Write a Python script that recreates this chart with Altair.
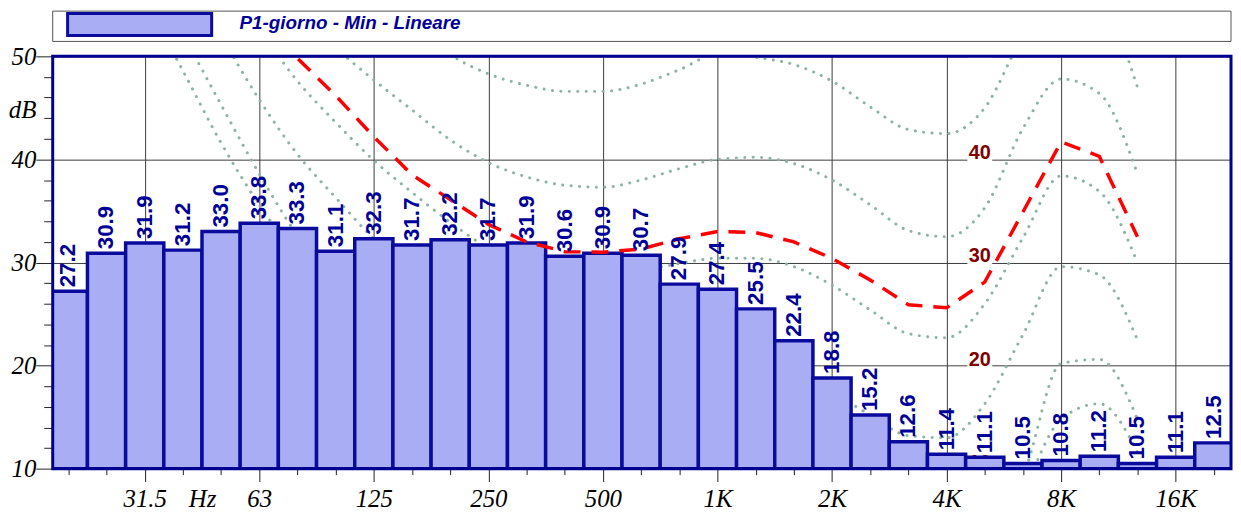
import altair as alt
import pandas as pd

# ---------------- data ----------------
band_labels = ["20", "25", "31.5", "40", "50", "63", "80", "100", "125", "160", "200",
               "250", "315", "400", "500", "630", "800", "1K", "1.25K", "1.6K", "2K",
               "2.5K", "3.15K", "4K", "5K", "6.3K", "8K", "10K", "12.5K", "16K", "20K"]
levels = [27.2, 30.9, 31.9, 31.2, 33.0, 33.8, 33.3, 31.1, 32.3, 31.7, 32.2,
          31.7, 31.9, 30.6, 30.9, 30.7, 27.9, 27.4, 25.5, 22.4, 18.8,
          15.2, 12.6, 11.4, 11.1, 10.5, 10.8, 11.2, 10.5, 11.1, 12.5]

axis_tick_idx = [2, 5, 8, 11, 14, 17, 20, 23, 26, 29]
axis_tick_lbl = ["31.5", "63", "125", "250", "500", "1K", "2K", "4K", "8K", "16K"]
unit_x_idx, unit_x_lbl = 3.5, "Hz"
unit_y_val, unit_y_lbl = 44.8, "dB"

# equal-loudness style contours (band index where each starts, values in dB)
contour_t_start = 2
contour_t = [55.5, 48.6, 41.6, 35.6, 30.5, 26.0, 22.0, 18.5, 15.5, 13.0, 10.5, 8.5, 7.0,
             5.5, 4.5, 4.0, 4.0, 3.5, 2.0, 0.0, -2.5, -3.0, 1.0, 7.8, 14.8, 16.3, 11.6]
contour_10_start = 3
contour_10 = [52.2, 45.3, 38.6, 32.6, 28.0, 24.5, 21.5, 19.0, 17.0, 15.3, 14.0, 13.0, 12.5,
              12.0, 11.5, 11.0, 9.5, 7.5, 5.0, 3.0, 2.5, 4.5, 9.3, 20.2, 20.6, 14.8]
contour_20_start = 4
contour_20 = [52.0, 45.8, 40.5, 36.3, 32.3, 29.2, 27.0, 25.0, 23.5, 22.2, 21.3, 20.8, 20.5,
              20.5, 20.3, 19.2, 17.4, 15.2, 13.2, 13.0, 16.3, 23.0, 29.6, 28.8, 22.5]
contour_30_start = 5
contour_30 = [52.7, 47.6, 43.6, 39.9, 36.8, 33.9, 31.4, 29.8, 28.8, 28.6, 29.2, 29.9, 30.4,
              30.4, 29.6, 27.8, 25.4, 23.1, 22.7, 26.0, 32.4, 38.4, 36.9, 30.0]
contour_40_start = 6
contour_40 = [54.2, 50.8, 47.7, 44.8, 41.9, 39.7, 38.3, 37.5, 37.3, 38.0, 39.1, 40.0, 40.2,
              39.6, 38.0, 35.6, 33.1, 32.5, 35.3, 43.0, 47.8, 46.4, 38.6]
contour_50_start = 9
contour_50 = [53.5, 50.2, 48.3, 47.2, 46.6, 46.6, 47.3, 48.7, 50.2, 49.9, 49.2, 47.6, 45.1,
              42.9, 42.5, 45.0, 52.0, 57.0, 55.5, 47.0]

# reference (red dashed) curve
ref_start = 5
ref_curve = [53.6, 49.8, 46.2, 42.2, 38.5, 36.1, 33.7, 32.0, 31.05, 31.0, 31.3, 32.3, 33.0,
             32.9, 32.0, 30.4, 28.3, 25.9, 25.6, 28.1, 34.9, 41.7, 40.3, 32.5]

# curve labels
curve_lbl_idx = 23.87
curve_lbl_vals = [50, 40, 30, 20, 10]
curve_lbl_text = ["50", "40", "30", "20", "10"]

legend_title = "P1-giorno - Min - Lineare"

# ---------------- style ----------------
W, H = 1186, 415
X_DOM = [-0.41, 30.45]
Y_DOM = [10, 50]
BAR_FILL = "#a9adf3"
BAR_EDGE = "#0a0a9c"
TXT_BLUE = "#000099"
DOT_COL = "#8cb4a5"
GRID_COL = "#3c3c3c"
SERIF = "Liberation Serif"
SANS = "Liberation Sans"

xs = alt.Scale(domain=X_DOM, nice=False, zero=False)
ys = alt.Scale(domain=Y_DOM, nice=False, zero=False)

lbl_map = dict(zip(axis_tick_idx, axis_tick_lbl))
lbl_map[unit_x_idx] = unit_x_lbl
x_expr = "".join(f"datum.value == {k} ? '{v}' : " for k, v in lbl_map.items()) + "''"

x_axis = alt.Axis(
    values=list(range(len(levels))) + [unit_x_idx],
    labelExpr=x_expr, title=None, domain=False, grid=True,
    gridColor=GRID_COL, gridWidth=1,
    gridOpacity={"condition": {"test": "datum.value % 3 == 2", "value": 1}, "value": 0},
    tickColor="#222222", tickWidth=1,
    tickSize={"condition": {"test": f"datum.value % 3 == 2 || datum.value == {unit_x_idx}", "value": 13}, "value": 6},
    tickOpacity={"condition": {"test": f"datum.value == {unit_x_idx}", "value": 0}, "value": 1},
    labelFont=SERIF, labelFontStyle="italic", labelFontSize=25, labelColor="black",
    labelPadding=5, labelOverlap=False, labelFlush=False, labelBound=False,
)
y_axis = alt.Axis(
    values=list(range(10, 51, 2)) + [unit_y_val],
    labelExpr=f"datum.value == {unit_y_val} ? '{unit_y_lbl}' : (datum.value % 10 == 0 ? format(datum.value, 'd') : '')",
    title=None, domain=False, grid=True, gridColor=GRID_COL, gridWidth=1,
    gridOpacity={"condition": {"test": "datum.value % 10 == 0", "value": 1}, "value": 0},
    tickColor="#222222", tickWidth=1,
    tickSize={"condition": {"test": f"datum.value % 10 == 0 || datum.value == {unit_y_val}", "value": 17}, "value": 9},
    tickOpacity={"condition": {"test": f"datum.value == {unit_y_val}", "value": 0}, "value": 1},
    labelFont=SERIF, labelFontStyle="italic", labelFontSize=25, labelColor="black",
    labelPadding=0, labelOverlap=False, labelFlush=False, labelBound=False,
)


def X(field):
    return alt.X(field, scale=xs, axis=x_axis)


def Y(field):
    return alt.Y(field, scale=ys, axis=y_axis)


# ---------------- tables ----------------
bars_df = pd.DataFrame({"i": list(range(len(levels))), "v": levels, "band": band_labels})

rows = []
for name, start, vals in [("T", contour_t_start, contour_t), ("10", contour_10_start, contour_10),
                          ("20", contour_20_start, contour_20), ("30", contour_30_start, contour_30),
                          ("40", contour_40_start, contour_40), ("50", contour_50_start, contour_50)]:
    for k, v in enumerate(vals):
        rows.append({"curve": name, "i": start + k, "v": v})
cont_df = pd.DataFrame(rows)

ref_df = pd.DataFrame({"i": [ref_start + k for k in range(len(ref_curve))], "v": ref_curve})
lbl_df = pd.DataFrame({"i": [curve_lbl_idx] * len(curve_lbl_vals), "v": curve_lbl_vals, "t": curve_lbl_text})
one = pd.DataFrame({"k": [0]})

# ---------------- layers ----------------
contours = alt.Chart(cont_df).mark_line(
    stroke=DOT_COL, strokeWidth=3, strokeDash=[0.1, 8.4], strokeCap="round",
    interpolate="monotone", clip=True,
).encode(x=X("i:Q"), y=Y("v:Q"), detail="curve:N")

lbl_bg = alt.Chart(lbl_df).mark_rect(fill="white", width=25, height=19, yOffset=-8, clip=True).encode(
    x=X("i:Q"), y=Y("v:Q"))

lbl_txt = alt.Chart(lbl_df).mark_text(
    color="#800000", font=SANS, fontWeight="bold", fontSize=20, align="center",
    baseline="alphabetic", clip=True,
).encode(x=X("i:Q"), y=Y("v:Q"), text="t:N")

bars = alt.Chart(bars_df).transform_calculate(x0="datum.i - 0.5", x1="datum.i + 0.5").mark_rect(
    fill=BAR_FILL, stroke=BAR_EDGE, strokeWidth=3.5, clip=True,
).encode(x=X("x0:Q"), x2="x1:Q", y=Y("v:Q"), y2=alt.datum(10))

ref = alt.Chart(ref_df).mark_line(color="#ff0000", strokeWidth=3.5, strokeDash=[17, 11], clip=True).encode(
    x=X("i:Q"), y=Y("v:Q"))

bar_txt = alt.Chart(bars_df).mark_text(
    angle=270, align="left", baseline="middle", dx=4, font=SANS, fontWeight="bold",
    fontSize=22.5, color=TXT_BLUE, clip=True,
).encode(x=X("i:Q"), y=Y("v:Q"), text=alt.Text("v:Q", format=".1f"))

frame = alt.Chart(one).mark_rect(fill="white", fillOpacity=0, stroke="#000090", strokeWidth=3).encode(
    x=alt.value(0), x2=alt.value(W), y=alt.value(0), y2=alt.value(H))

leg_box = alt.Chart(one).mark_rect(fill="white", stroke="#555555", strokeWidth=1).encode(
    x=alt.value(0), x2=alt.value(W), y=alt.value(-45.5), y2=alt.value(-15))
leg_sw = alt.Chart(one).mark_rect(fill=BAR_FILL, stroke=BAR_EDGE, strokeWidth=3).encode(
    x=alt.value(15), x2=alt.value(160), y=alt.value(-43), y2=alt.value(-21))
leg_txt = alt.Chart(one).mark_text(
    text=legend_title, align="left", baseline="alphabetic", font=SANS, fontStyle="italic",
    fontWeight="bold", fontSize=19, color=TXT_BLUE,
).encode(x=alt.value(188), y=alt.value(-28))

chart = alt.layer(
    contours, lbl_bg, lbl_txt, bars, ref, bar_txt, frame, leg_box, leg_sw, leg_txt
).properties(
    width=W, height=H, padding={"left": 0, "top": 1, "right": 0, "bottom": 0}
).configure_view(stroke=None).configure(background="white")

chart.save("out.html", embed_options={"renderer": "svg", "actions": False})
